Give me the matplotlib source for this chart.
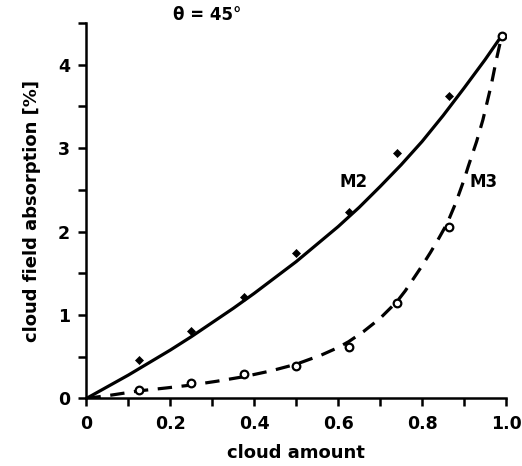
import matplotlib
matplotlib.use("Agg")
import matplotlib.pyplot as plt
from matplotlib.ticker import MultipleLocator, FixedLocator

# Data
cloud_amount_pts = [0.125, 0.25, 0.375, 0.5, 0.625, 0.74, 0.865, 0.99]
m2_points = [0.46, 0.81, 1.22, 1.74, 2.24, 2.94, 3.63, 4.35]
m3_points = [0.10, 0.18, 0.29, 0.39, 0.62, 1.14, 2.06, 4.35]

m2_curve_x = [0.0, 0.05, 0.1, 0.15, 0.2, 0.25, 0.3, 0.35, 0.4, 0.45, 0.5, 0.55,
              0.6, 0.65, 0.7, 0.75, 0.8, 0.85, 0.9, 0.95, 0.99]
m2_curve_y = [0.0, 0.14, 0.28, 0.43, 0.58, 0.74, 0.91, 1.08, 1.26, 1.45, 1.64, 1.85,
              2.06, 2.29, 2.54, 2.80, 3.08, 3.39, 3.72, 4.06, 4.35]

m3_curve_x = [0.0, 0.06, 0.125, 0.19, 0.25, 0.31, 0.375, 0.44, 0.5, 0.56, 0.6,
              0.625, 0.66, 0.7, 0.74, 0.76, 0.78, 0.8, 0.82, 0.84, 0.86, 0.88,
              0.9, 0.91, 0.93, 0.945, 0.955, 0.965, 0.977, 0.99]
m3_curve_y = [0.0, 0.04, 0.09, 0.125, 0.16, 0.205, 0.26, 0.33, 0.41, 0.52, 0.61,
              0.68, 0.80, 0.96, 1.16, 1.29, 1.44, 1.59, 1.75, 1.92, 2.10, 2.34,
              2.62, 2.78, 3.08, 3.34, 3.55, 3.76, 4.06, 4.35]

x_ticks = [0.0, 0.2, 0.4, 0.6, 0.8, 1.0]
x_tick_labels = ["0", "0.2", "0.4", "0.6", "0.8", "1.0"]
y_ticks = [0, 1, 2, 3, 4]
y_tick_labels = ["0", "1", "2", "3", "4"]

plt.rcParams['font.family'] = ['DejaVu Sans']

fig = plt.figure(figsize=(5.22, 4.66), dpi=100)
ax = fig.add_axes([0.1657, 0.1451, 0.8036, 0.8054])

ax.plot(m2_curve_x, m2_curve_y, color='black', lw=2.3, solid_capstyle='round',
        solid_joinstyle='round')
ax.plot(m3_curve_x, m3_curve_y, color='black', lw=2.3, dashes=(4.5, 3.0),
        dash_joinstyle='round')
ax.plot(cloud_amount_pts, m2_points, linestyle='none', marker='D', ms=4.2,
        color='black', mew=0.5)
ax.plot(cloud_amount_pts, m3_points, linestyle='none', marker='o', ms=5.5,
        mfc='white', mec='black', mew=1.6)

ax.set_xlim(0, 1.0)
ax.set_ylim(0, 4.5)
for s in ['top', 'right']:
    ax.spines[s].set_visible(False)
for s in ['left', 'bottom']:
    ax.spines[s].set_linewidth(1.8)

ax.xaxis.set_major_locator(FixedLocator(x_ticks))
ax.set_xticklabels(x_tick_labels)
ax.xaxis.set_minor_locator(MultipleLocator(0.1))
ax.yaxis.set_major_locator(FixedLocator(y_ticks))
ax.set_yticklabels(y_tick_labels)
ax.yaxis.set_minor_locator(MultipleLocator(0.5))

ax.tick_params(which='both', direction='out', length=6, width=1.8)
ax.tick_params(axis='x', which='major', pad=6, labelsize=12.5)
ax.tick_params(axis='y', which='major', pad=6, labelsize=12.5)
for lbl in ax.get_xticklabels() + ax.get_yticklabels():
    lbl.set_fontweight('bold')

ax.set_xlabel("cloud amount", fontsize=13, fontweight='bold', labelpad=8)
ax.set_ylabel("cloud field absorption [%]", fontsize=13, fontweight='bold',
              labelpad=12)

ax.text(0.287, 4.6, "θ = 45°", fontsize=12, fontweight='bold', ha='center',
        va='center', clip_on=False)
ax.text(0.637, 2.6, "M2", fontsize=12, fontweight='bold', ha='center', va='center')
ax.text(0.946, 2.6, "M3", fontsize=12, fontweight='bold', ha='center', va='center')

fig.savefig("out.png", dpi=100)
